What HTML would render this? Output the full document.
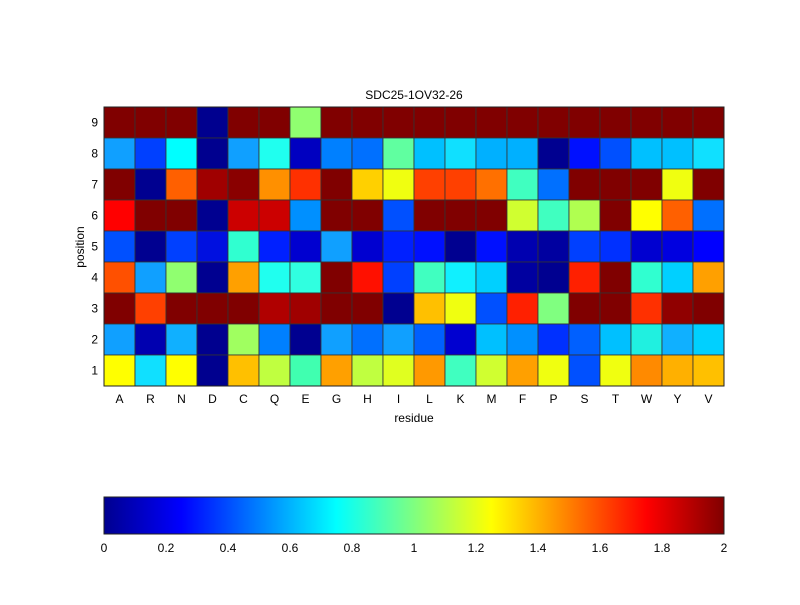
<!DOCTYPE html>
<html><head><meta charset="utf-8"><style>
body{margin:0;background:#fff;width:800px;height:600px;overflow:hidden}
text{font-family:"Liberation Sans",sans-serif;font-size:12px;fill:#000}
</style></head><body>
<svg id="s" width="800" height="600" xmlns="http://www.w3.org/2000/svg">
<defs><linearGradient id="jet" x1="0" x2="1" y1="0" y2="0">
<stop offset="0" stop-color="#00008f"/><stop offset="0.125" stop-color="#0000ff"/>
<stop offset="0.375" stop-color="#00ffff"/><stop offset="0.625" stop-color="#ffff00"/>
<stop offset="0.875" stop-color="#ff0000"/><stop offset="1" stop-color="#800000"/></linearGradient></defs>
<g id="cells"></g>
<rect x="104" y="107" width="620" height="279" fill="none" stroke="#222" stroke-width="1"/>
<text x="414" y="99" text-anchor="middle">SDC25-1OV32-26</text>
<text x="414" y="422" text-anchor="middle">residue</text>
<text transform="translate(84,247) rotate(-90)" text-anchor="middle">position</text>
<g id="lab"></g>
<rect id="cb" x="104" y="497" width="620" height="37" fill="url(#jet)" stroke="#222"/>
</svg>
<script>
var D="#800000";
var rows=[
[D,D,D,"#00008f",D,D,"#90ff70",D,D,D,D,D,D,D,D,D,D,D,D,D],
["#10a0ff","#0040ff","#00ffff","#00008f","#10a0ff","#20ffef","#0000c0","#0080ff","#0070ff","#60ffa0","#00c0ff","#10e0ff","#00b0ff","#00b0ff","#000090","#0010ff","#0050ff","#00c0ff","#00c0ff","#10e0ff"],
[D,"#000090","#ff6000","#a00000","#8a0000","#ff9000","#ff3000",D,"#ffd000","#f0ff10","#ff4000","#ff4000","#ff7000","#40ffc0","#0070ff",D,D,D,"#f0ff10",D],
["#ff0000",D,D,"#000090","#cc0000","#cc0000","#0090ff",D,D,"#0050ff",D,D,D,"#d0ff30","#40ffc0","#b0ff50",D,"#ffff00","#ff6000","#0070ff"],
["#0050ff","#000090","#0040ff","#0010e0","#30ffd0","#0020ff","#0000d0","#10a0ff","#0000d0","#0020ff","#0010ff","#000090","#0010ff","#0000b0","#0000a0","#0040ff","#0030ff","#0000d0","#0000e0","#0000ff"],
["#ff5000","#10a0ff","#90ff70","#000090","#ffa000","#20ffef","#30ffe0",D,"#ff1000","#0040ff","#40ffc0","#10f0ff","#00d0ff","#0000a0","#000090","#ff2000",D,"#30ffd0","#00d0ff","#ffa000"],
[D,"#ff4000",D,D,D,"#b00000","#a00000",D,D,"#000090","#ffc000","#f0ff10","#0050ff","#ff2000","#80ff80",D,D,"#ff3000","#900000",D],
["#10a0ff","#0000b0","#10b0ff","#00008f","#a0ff60","#0080ff","#000090","#10a0ff","#0070ff","#10a0ff","#0060ff","#0000d0","#00c0ff","#0090ff","#0030ff","#0060ff","#00c0ff","#20f0e0","#10b0ff","#00d0ff"],
["#ffff00","#10e0ff","#ffff00","#00008f","#ffc000","#c0ff40","#40ffb0","#ffa000","#c0ff40","#e0ff20","#ff9900","#40ffc0","#d0ff30","#ffa000","#f0ff10","#0050ff","#f0ff10","#ff8a00","#ffb000","#ffc000"]];
var res="ARNDCQEGHILKMFPSTWYV";
var ns="http://www.w3.org/2000/svg",g=document.getElementById("cells"),L=document.getElementById("lab");
function el(t,a,p,txt){var e=document.createElementNS(ns,t);for(var k in a)e.setAttribute(k,a[k]);if(txt)e.textContent=txt;p.appendChild(e);return e;}
var ch=279/9;
for(var r=0;r<9;r++)for(var c=0;c<20;c++)
 el("rect",{x:104+c*31,y:107+r*ch,width:31,height:ch,fill:rows[r][c],stroke:"#333","stroke-width":0.8},g);
for(var r=0;r<9;r++)el("text",{x:98,y:107+r*ch+ch/2+4,"text-anchor":"end"},L,String(9-r));
for(var c=0;c<20;c++)el("text",{x:104+c*31+15.5,y:403,"text-anchor":"middle"},L,res[c]);
var lb=["0","0.2","0.4","0.6","0.8","1","1.2","1.4","1.6","1.8","2"];
for(var i=0;i<=10;i++){var x=104+i*62;
 el("text",{x:x,y:552,"text-anchor":"middle"},L,lb[i]);
 if(i>0&&i<10){el("line",{x1:x,x2:x,y1:497,y2:502,stroke:"#222"},L);el("line",{x1:x,x2:x,y1:529,y2:534,stroke:"#222"},L);}}
</script>
</body></html>
